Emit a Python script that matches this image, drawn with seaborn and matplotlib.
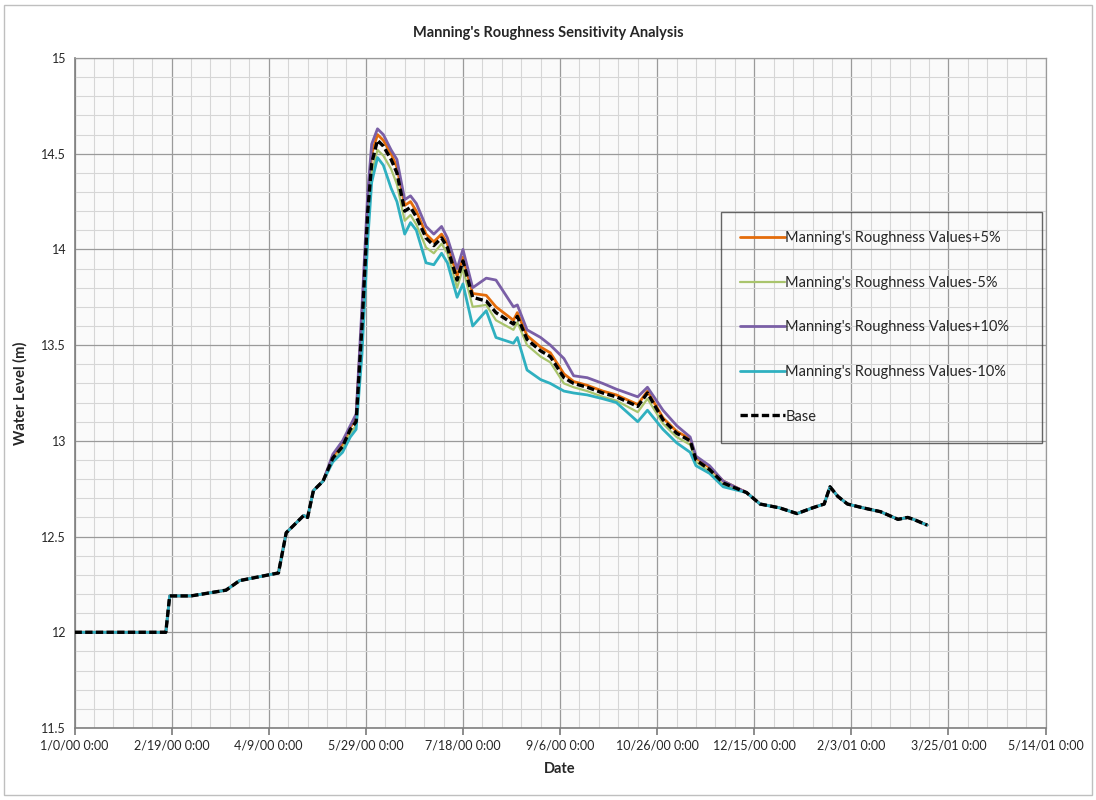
import matplotlib
matplotlib.use("Agg")
import matplotlib.pyplot as plt
import seaborn as sns
from matplotlib.patches import Rectangle
from matplotlib.ticker import MultipleLocator, FixedLocator, FuncFormatter

# days since 1/0/00 (Excel serial style)
days = [0, 47, 49, 60, 78, 85, 95, 105, 109, 112,
        118, 120, 123, 128, 133, 138, 142, 145, 148, 151,
        153, 156, 159, 163, 166, 170, 173, 176, 181, 185,
        189, 192, 197, 200, 205, 212, 217, 226, 228, 233,
        240, 245, 252, 257, 264, 272, 279, 290, 295, 303,
        310, 317, 320, 327, 334, 346, 353, 363, 372, 380,
        386, 389, 393, 398, 406, 415, 424, 429, 432, 439]

# shared rising limb (days 0-128)
rise = [12.00, 12.00, 12.19, 12.19, 12.22, 12.27, 12.29, 12.31, 12.52, 12.55,
        12.61, 12.60, 12.74, 12.79]

# shared recession tail (days 346-439)
tail = [12.73, 12.67, 12.65, 12.62, 12.65, 12.67, 12.76, 12.71, 12.67, 12.65,
        12.63, 12.59, 12.60, 12.59, 12.56]

# flood period (days 133-334) for each run
base_mid = [12.91, 12.97, 13.06, 13.10, 13.60, 14.20, 14.45, 14.57, 14.54, 14.47,
            14.40, 14.20, 14.22, 14.17, 14.06, 14.02, 14.06, 14.01, 13.84, 13.94,
            13.75, 13.73, 13.67, 13.61, 13.65, 13.53, 13.47, 13.44, 13.33, 13.30,
            13.28, 13.25, 13.23, 13.18, 13.25, 13.11, 13.04, 13.00, 12.90, 12.85,
            12.78]
plus5_mid = [12.92, 12.98, 13.07, 13.12, 13.65, 14.25, 14.50, 14.60, 14.57, 14.50,
             14.43, 14.23, 14.25, 14.20, 14.08, 14.04, 14.08, 14.03, 13.86, 13.96,
             13.77, 13.76, 13.70, 13.63, 13.67, 13.55, 13.49, 13.46, 13.35, 13.31,
             13.29, 13.26, 13.24, 13.19, 13.26, 13.12, 13.05, 13.01, 12.91, 12.86,
             12.79]
minus5_mid = [12.90, 12.96, 13.04, 13.08, 13.52, 14.12, 14.40, 14.52, 14.49, 14.42,
              14.34, 14.15, 14.18, 14.13, 14.01, 13.98, 14.03, 13.98, 13.80, 13.90,
              13.70, 13.71, 13.63, 13.58, 13.62, 13.50, 13.44, 13.41, 13.30, 13.28,
              13.26, 13.23, 13.21, 13.15, 13.22, 13.09, 13.02, 12.98, 12.89, 12.84,
              12.77]
plus10_mid = [12.93, 13.00, 13.08, 13.14, 13.70, 14.30, 14.55, 14.63, 14.60, 14.52,
              14.47, 14.26, 14.28, 14.24, 14.12, 14.08, 14.12, 14.06, 13.90, 14.00,
              13.80, 13.85, 13.84, 13.70, 13.71, 13.58, 13.54, 13.50, 13.43, 13.34,
              13.33, 13.30, 13.27, 13.23, 13.28, 13.16, 13.08, 13.02, 12.92, 12.87,
              12.79]
minus10_mid = [12.89, 12.94, 13.02, 13.06, 13.45, 14.05, 14.35, 14.48, 14.44, 14.32,
               14.25, 14.08, 14.14, 14.10, 13.93, 13.92, 13.98, 13.93, 13.75, 13.82,
               13.60, 13.68, 13.54, 13.51, 13.54, 13.37, 13.32, 13.30, 13.26, 13.25,
               13.24, 13.22, 13.20, 13.10, 13.16, 13.06, 12.99, 12.94, 12.87, 12.83,
               12.76]

series = [
    ("Manning's Roughness Values+5%", plus5_mid, "#E46C0A", 2.0, "-"),
    ("Manning's Roughness Values-5%", minus5_mid, "#A9C46C", 1.6, "-"),
    ("Manning's Roughness Values+10%", plus10_mid, "#7A5FA6", 2.0, "-"),
    ("Manning's Roughness Values-10%", minus10_mid, "#2FB0C0", 2.0, "-"),
    ("Base", base_mid, "#000000", 2.4, "--"),
]

tick_days = [0, 50, 100, 150, 200, 250, 300, 350, 400, 450, 500]
tick_labels = ["1/0/00 0:00", "2/19/00 0:00", "4/9/00 0:00", "5/29/00 0:00",
               "7/18/00 0:00", "9/6/00 0:00", "10/26/00 0:00", "12/15/00 0:00",
               "2/3/01 0:00", "3/25/01 0:00", "5/14/01 0:00"]

sns.set_theme(style="white")
plt.rcParams['font.family'] = ['Lato', 'DejaVu Sans']

fig = plt.figure(figsize=(10.96, 8.0), dpi=100)
ax = fig.add_axes([0.068, 0.09, 0.886, 0.8375])

for label, mid, color, lw, ls in series:
    vals = rise + mid + tail
    sns.lineplot(x=days, y=vals, ax=ax, color=color, linewidth=lw,
                 linestyle=ls, label=label, zorder=3)
for line in ax.get_lines():
    if line.get_label() == "Base":
        line.set_dashes((2.2, 1.0))
        line.set_zorder(4)

ax.set_xlim(0, 500)
ax.set_ylim(11.5, 15)
ax.xaxis.set_major_locator(FixedLocator(tick_days))
ax.set_xticklabels(tick_labels)
ax.xaxis.set_minor_locator(MultipleLocator(10))
ax.yaxis.set_major_locator(MultipleLocator(0.5))
ax.yaxis.set_minor_locator(MultipleLocator(0.1))
ax.yaxis.set_major_formatter(FuncFormatter(lambda v, p: f"{v:g}"))

ax.grid(which="major", color="#9A9A9A", linewidth=0.9)
ax.grid(which="minor", color="#D6D6D6", linewidth=0.8)
ax.set_axisbelow(True)
ax.set_facecolor("#FAFAFA")
for side in ["left", "bottom"]:
    ax.spines[side].set_color("#7F7F7F")
    ax.spines[side].set_linewidth(1.2)
for side in ["top", "right"]:
    ax.spines[side].set_color("#9A9A9A")
    ax.spines[side].set_linewidth(0.9)

ax.tick_params(axis="x", which="major", direction="out", length=5,
               color="#7F7F7F", labelsize=9, pad=3, bottom=True)
ax.tick_params(axis="y", which="major", length=0, labelsize=9, pad=6)
ax.tick_params(which="minor", length=0)

ax.set_xlabel("Date", fontsize=10.5, fontweight="bold", labelpad=8)
ax.set_ylabel("Water Level (m)", fontsize=10.5, fontweight="bold", labelpad=10)
fig.suptitle("Manning's Roughness Sensitivity Analysis", fontsize=10.5,
             fontweight="bold", y=0.968)

leg = ax.legend(loc="upper left", bbox_to_anchor=(0.666, 0.77, 0.33, 0.0),
                mode="expand", frameon=True, fontsize=10.5, labelspacing=2.1,
                handlelength=3.1, handletextpad=0.0, borderpad=1.3,
                borderaxespad=0.0, fancybox=False)
leg.get_frame().set_facecolor("none")
leg.get_frame().set_edgecolor("#404040")
leg.get_frame().set_linewidth(1.0)

fig.patches.append(Rectangle((0.004, 0.006), 0.992, 0.988, transform=fig.transFigure,
                             fill=False, edgecolor="#BFBFBF", linewidth=1.0))

fig.savefig("out.png", dpi=100)
